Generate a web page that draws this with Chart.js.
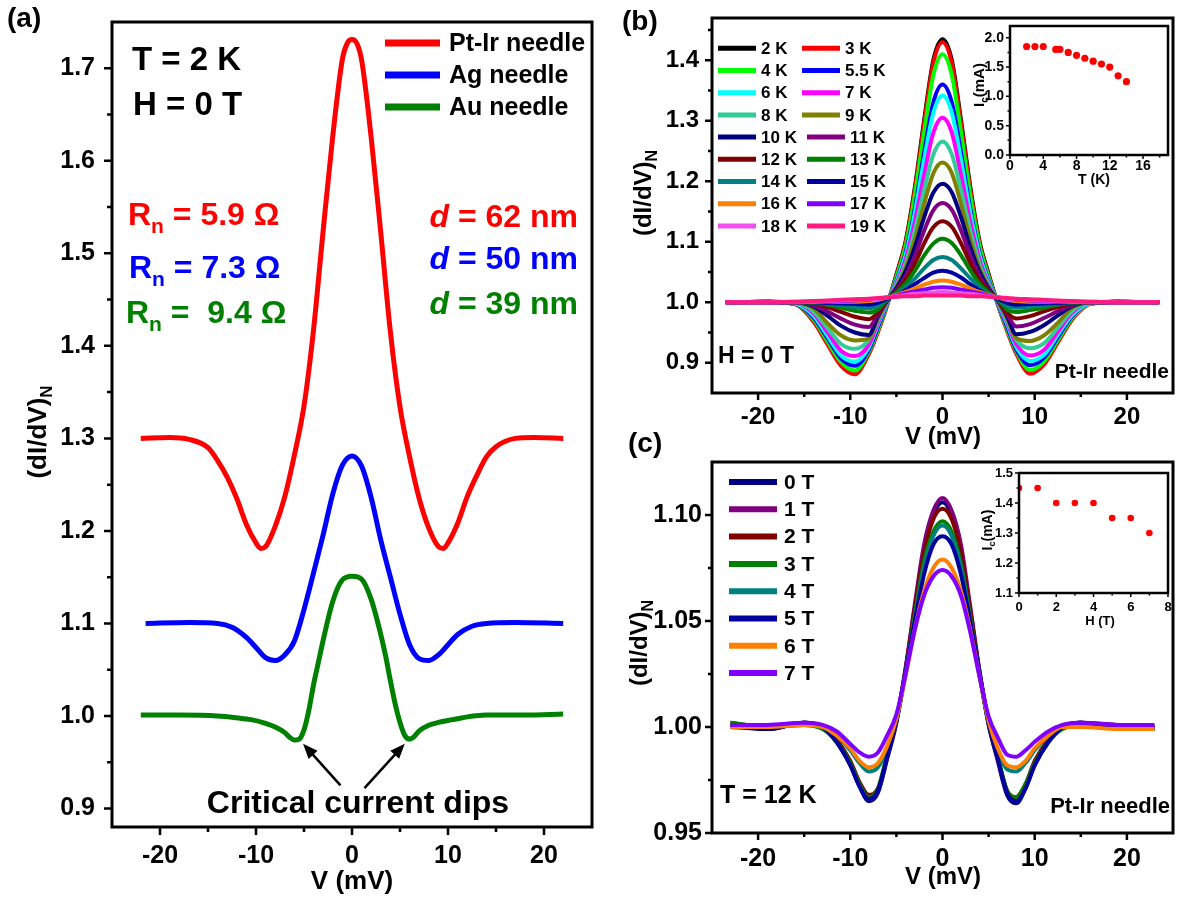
<!DOCTYPE html>
<html>
<head>
<meta charset="utf-8">
<title>Point-contact spectra</title>
<script src="https://cdn.jsdelivr.net/npm/chart.js@4.4.1/dist/chart.umd.min.js"></script>
<style>
  body { margin: 0; background: #fff; }
  #fig { position: relative; width: 1182px; height: 897px; background: #fff; }
  #fig canvas { position: absolute; left: 0; top: 0; }
</style>
</head>
<body>
<div id="fig">
  <canvas id="cA" width="1182" height="897"></canvas>
  <canvas id="cB" width="1182" height="897"></canvas>
  <canvas id="cC" width="1182" height="897"></canvas>
  <canvas id="cBi" width="1182" height="897"></canvas>
  <canvas id="cCi" width="1182" height="897"></canvas>
</div>
<script>
const FAMILY = '"Liberation Sans", Arial, Helvetica, sans-serif';
const W = 1182, H = 897;

// ---------- (a) three needles, T = 2 K ----------
const vPtIr = [-22,-19,-17,-15,-14,-13,-12,-11,-10,-9.5,-9,-8,-7,-6,-5,-4,-3,-2,-1,-0.5,0,0.5,1,2,3,4,5,6,7,8,9,9.5,10,11,12,13,14,15,17,19,22];
const gPtIr = [1.300,1.301,1.299,1.290,1.276,1.258,1.235,1.207,1.187,1.181,1.183,1.205,1.237,1.282,1.335,1.418,1.525,1.627,1.710,1.727,1.731,1.727,1.709,1.625,1.522,1.415,1.334,1.280,1.235,1.203,1.183,1.181,1.187,1.208,1.237,1.260,1.280,1.291,1.300,1.301,1.300];
const vAg = [-21.5,-17,-14,-12.5,-11,-10,-9,-8,-7,-6,-5,-4,-3,-2,-1,0,1,2,3,4,5,6,7,8,9,10,11,12.5,14,17,22];
const gAg = [1.100,1.101,1.100,1.096,1.085,1.074,1.063,1.060,1.066,1.081,1.115,1.155,1.196,1.240,1.271,1.281,1.270,1.236,1.190,1.150,1.110,1.077,1.062,1.060,1.066,1.077,1.088,1.097,1.100,1.101,1.100];
const vAu = [-22,-18,-14,-12,-10.5,-9,-8,-7,-6.5,-6,-5.5,-5,-4.5,-4,-3.5,-3,-2,-1,0,1,2,3,3.5,4,4.5,5,5.5,6,6.5,7,8,9,10.5,12,14,18,22];
const gAu = [1.001,1.001,1.000,0.998,0.996,0.992,0.988,0.982,0.977,0.974,0.975,0.985,1.006,1.034,1.058,1.082,1.124,1.147,1.151,1.148,1.126,1.088,1.065,1.038,1.013,0.993,0.979,0.975,0.978,0.984,0.990,0.993,0.996,0.999,1.001,1.001,1.002];

// ---------- (b) Pt-Ir needle, H = 0 T, temperature series ----------
const tempLabels = ['2 K','3 K','4 K','5.5 K','6 K','7 K','8 K','9 K','10 K','11 K','12 K','13 K','14 K','15 K','16 K','17 K','18 K','19 K'];
const tempColors = ['#000000','#FF0000','#00FF00','#0000FF','#00FFFF','#FF00FF','#33CC99','#808000','#000080','#800080','#800000','#008000','#008080','#0000A0','#FF8000','#8000FF','#F050F0','#FF1A80'];
const vTemp = [-23.5,-19,-16,-14,-12.5,-11,-9.5,-8,-7,-6,-5,-4,-3,-2,-1,0,1,2,3,4,5,6,7,8,9.5,11,12.5,14,16,19,23.5];
const g2K  = [1.000,1.001,0.997,0.970,0.933,0.897,0.883,0.916,0.953,0.996,1.046,1.101,1.190,1.300,1.400,1.435,1.401,1.302,1.192,1.102,1.047,0.997,0.955,0.917,0.884,0.899,0.935,0.972,0.998,1.001,1.000];
const g3K  = [1.000,1.000,0.997,0.968,0.931,0.895,0.881,0.914,0.951,0.995,1.044,1.098,1.186,1.295,1.395,1.430,1.396,1.296,1.188,1.099,1.045,0.996,0.953,0.915,0.882,0.897,0.933,0.970,0.997,1.000,1.000];
const g4K  = [1.000,1.001,0.998,0.972,0.936,0.901,0.887,0.918,0.955,0.997,1.041,1.093,1.177,1.280,1.375,1.410,1.376,1.281,1.178,1.094,1.042,0.997,0.956,0.919,0.888,0.902,0.937,0.973,0.998,1.001,1.000];
const g5K5 = [1.000,1.000,0.998,0.975,0.941,0.907,0.895,0.921,0.959,0.998,1.036,1.082,1.155,1.247,1.330,1.360,1.331,1.248,1.156,1.083,1.036,0.998,0.960,0.922,0.896,0.908,0.942,0.976,0.998,1.000,1.000];
const g6K  = [1.000,1.001,0.998,0.978,0.945,0.912,0.902,0.925,0.963,0.999,1.034,1.078,1.148,1.235,1.313,1.342,1.314,1.236,1.149,1.079,1.034,0.999,0.964,0.926,0.903,0.913,0.946,0.978,0.998,1.001,1.000];
const g7K  = [1.000,1.000,0.999,0.982,0.951,0.920,0.911,0.930,0.966,1.000,1.031,1.071,1.133,1.210,1.280,1.305,1.281,1.211,1.134,1.071,1.031,1.000,0.967,0.931,0.912,0.921,0.951,0.982,0.999,1.000,1.000];
const g8K  = [1.000,1.001,0.999,0.985,0.958,0.931,0.923,0.938,0.970,1.001,1.028,1.064,1.118,1.185,1.244,1.266,1.245,1.186,1.119,1.064,1.028,1.001,0.970,0.938,0.924,0.932,0.958,0.985,0.999,1.001,1.000];
const g9K  = [1.000,1.000,1.000,0.990,0.966,0.945,0.937,0.940,0.974,1.002,1.025,1.057,1.104,1.162,1.213,1.231,1.214,1.163,1.105,1.057,1.025,1.002,0.974,0.941,0.936,0.945,0.966,0.990,1.000,1.000,1.000];
const g10K = [1.000,1.001,1.000,0.993,0.978,0.961,0.950,0.946,0.977,1.003,1.023,1.051,1.091,1.140,1.181,1.196,1.182,1.141,1.092,1.051,1.023,1.003,0.977,0.947,0.951,0.962,0.978,0.993,1.000,1.001,1.000];
const g11K = [1.000,1.000,1.000,0.995,0.985,0.973,0.963,0.959,0.980,1.003,1.020,1.043,1.077,1.118,1.152,1.164,1.153,1.119,1.078,1.043,1.020,1.003,0.980,0.960,0.964,0.974,0.985,0.995,1.000,1.000,1.000];
const g12K = [1.000,1.001,1.000,0.998,0.992,0.984,0.976,0.972,0.983,1.004,1.018,1.037,1.064,1.097,1.124,1.134,1.125,1.098,1.065,1.037,1.018,1.004,0.983,0.973,0.977,0.985,0.992,0.998,1.000,1.001,1.000];
const g13K = [1.000,1.000,1.000,0.999,0.996,0.991,0.986,0.983,0.988,1.005,1.016,1.031,1.052,1.077,1.097,1.105,1.098,1.078,1.053,1.031,1.016,1.005,0.988,0.984,0.987,0.991,0.996,0.999,1.000,1.000,1.000];
const g14K = [1.000,1.001,1.000,1.000,0.998,0.995,0.992,0.990,0.994,1.005,1.014,1.025,1.039,1.056,1.070,1.075,1.070,1.056,1.040,1.025,1.014,1.005,0.994,0.991,0.993,0.995,0.998,1.000,1.000,1.001,1.000];
const g15K = [1.000,1.000,1.000,1.000,0.999,0.998,0.997,0.996,0.999,1.006,1.012,1.020,1.030,1.040,1.049,1.052,1.049,1.041,1.030,1.020,1.012,1.006,0.999,0.996,0.997,0.998,0.999,1.000,1.000,1.000,1.000];
const g16K = [1.000,1.000,1.000,1.001,1.001,1.001,1.001,1.002,1.004,1.008,1.012,1.017,1.023,1.029,1.034,1.036,1.034,1.029,1.023,1.017,1.012,1.008,1.004,1.002,1.001,1.001,1.001,1.001,1.000,1.000,1.000];
const g17K = [1.000,1.000,1.000,1.001,1.001,1.002,1.003,1.004,1.006,1.008,1.011,1.015,1.018,1.021,1.024,1.025,1.024,1.021,1.018,1.015,1.011,1.008,1.006,1.004,1.003,1.002,1.001,1.001,1.000,1.000,1.000];
const g18K = [1.000,1.000,1.001,1.001,1.002,1.003,1.004,1.005,1.006,1.008,1.010,1.012,1.014,1.015,1.016,1.017,1.016,1.015,1.014,1.012,1.010,1.008,1.006,1.005,1.004,1.003,1.002,1.001,1.001,1.000,1.000];
const g19K = [1.000,1.000,1.001,1.002,1.003,1.004,1.005,1.006,1.007,1.008,1.009,1.010,1.010,1.011,1.011,1.011,1.011,1.011,1.010,1.010,1.009,1.008,1.007,1.006,1.005,1.004,1.003,1.002,1.001,1.000,1.000];
const tempCurves = [g2K,g3K,g4K,g5K5,g6K,g7K,g8K,g9K,g10K,g11K,g12K,g13K,g14K,g15K,g16K,g17K,g18K,g19K];

// ---------- (c) Pt-Ir needle, T = 12 K, field series ----------
const fieldLabels = ['0 T','1 T','2 T','3 T','4 T','5 T','6 T','7 T'];
const fieldColors = ['#000080','#800080','#800000','#008000','#008080','#0000A0','#FF8000','#8000FF'];
const vField = [-23,-19,-15,-13,-11.5,-10,-9,-8,-7,-6,-5,-4,-3,-2,-1,0,1,2,3,4,5,6,7,8,9,10,11.5,13,15,19,23];
const g0T = [1.001,0.999,1.002,1.000,0.993,0.982,0.972,0.965,0.969,0.985,1.002,1.027,1.056,1.083,1.100,1.106,1.100,1.083,1.055,1.026,1.001,0.984,0.968,0.964,0.971,0.982,0.993,1.000,1.002,1.000,1.000];
const g1T = [1.002,1.000,1.002,1.000,0.994,0.983,0.973,0.966,0.970,0.986,1.003,1.028,1.058,1.086,1.102,1.108,1.102,1.086,1.057,1.027,1.002,0.985,0.969,0.966,0.972,0.983,0.994,1.000,1.002,1.001,1.000];
const g2T = [1.001,1.000,1.002,1.000,0.994,0.984,0.974,0.968,0.971,0.986,1.003,1.027,1.056,1.082,1.098,1.103,1.098,1.082,1.055,1.026,1.002,0.985,0.970,0.967,0.973,0.984,0.994,1.000,1.002,1.000,1.000];
const g3T = [1.002,1.000,1.001,0.999,0.993,0.983,0.973,0.967,0.971,0.987,1.003,1.026,1.053,1.078,1.092,1.097,1.092,1.077,1.052,1.025,1.002,0.986,0.970,0.967,0.973,0.983,0.993,0.999,1.001,1.000,1.000];
const g4T = [1.001,1.000,1.001,1.000,0.996,0.989,0.983,0.979,0.981,0.990,1.004,1.026,1.051,1.075,1.090,1.095,1.090,1.075,1.050,1.025,1.003,0.989,0.980,0.979,0.983,0.989,0.996,1.000,1.001,1.000,1.000];
const g5T = [1.000,0.999,1.002,1.000,0.993,0.982,0.972,0.966,0.970,0.986,1.003,1.026,1.050,1.072,1.086,1.090,1.086,1.072,1.050,1.026,1.002,0.985,0.969,0.965,0.971,0.982,0.993,1.000,1.002,1.000,0.999];
const g6T = [1.000,1.000,1.001,1.000,0.996,0.990,0.984,0.981,0.983,0.991,1.004,1.024,1.046,1.064,1.075,1.079,1.075,1.064,1.046,1.024,1.003,0.990,0.982,0.981,0.984,0.990,0.996,1.000,1.000,0.999,0.999];
const g7T = [1.001,1.001,1.002,1.001,0.998,0.992,0.988,0.986,0.988,0.996,1.006,1.025,1.046,1.062,1.071,1.074,1.071,1.062,1.045,1.024,1.005,0.995,0.987,0.986,0.989,0.993,0.998,1.001,1.002,1.001,1.001];
const fieldCurves = [g0T,g1T,g2T,g3T,g4T,g5T,g6T,g7T];

// ---------- insets: critical current ----------
const tK = [2,3,4,5.5,6,7,8,9,10,11,12,13,14];
const icVsT = [1.85,1.85,1.85,1.80,1.80,1.75,1.70,1.65,1.60,1.55,1.50,1.35,1.25];
const hT = [0,1,2,3,4,5,6,7];
const icVsH = [1.45,1.45,1.40,1.40,1.40,1.35,1.35,1.30];

// ---------- tick values ----------
const vTicks = [-20,-10,0,10,20];
const vMinor = [-15,-5,5,15];
const yTicksA = [0.9,1.0,1.1,1.2,1.3,1.4,1.5,1.6,1.7];
const yMinorA = [0.95,1.05,1.15,1.25,1.35,1.45,1.55,1.65];
const yTicksB = [0.9,1.0,1.1,1.2,1.3,1.4];
const yMinorB = [0.95,1.05,1.15,1.25,1.35,1.45];
const yTicksC = [0.95,1.00,1.05,1.10];
const yMinorC = [0.975,1.025,1.075];
const tTicks = [0,4,8,12,16], tMinor = [2,6,10,14,18];
const icTicksT = [0,0.5,1.0,1.5,2.0], icMinorT = [0.25,0.75,1.25,1.75];
const hTicks = [0,2,4,6,8], hMinor = [1,3,5,7];
const icTicksH = [1.1,1.2,1.3,1.4,1.5], icMinorH = [1.15,1.25,1.35,1.45];

Chart.defaults.font.family = FAMILY;
Chart.defaults.font.weight = 'bold';
Chart.defaults.color = '#000';

const pts = (xs, ys) => xs.map((x, i) => ({ x, y: ys[i] }));
const bold = (s, it) => (it ? 'italic ' : '') + 'bold ' + s + 'px ' + FAMILY;

function curve(xs, ys, color, width, order) {
  return {
    data: pts(xs, ys), borderColor: color, backgroundColor: color,
    borderWidth: width, pointRadius: 0, fill: false,
    cubicInterpolationMode: 'monotone', order
  };
}

// text made of pieces: [text, kind] with kind '' | 'sub' | 'it'
function rich(ctx, parts, x, y, o) {
  const size = o.size;
  const fontOf = k => k === 'sub' ? bold(Math.round(size * 0.66)) : bold(size, k === 'it');
  ctx.save();
  ctx.fillStyle = o.color || '#000';
  ctx.textBaseline = 'alphabetic';
  ctx.textAlign = 'left';
  let total = 0;
  parts.forEach(([t, k]) => { ctx.font = fontOf(k); total += ctx.measureText(t).width; });
  ctx.translate(x, y);
  if (o.rotate) ctx.rotate(o.rotate);
  let cx = o.align === 'right' ? -total : o.align === 'center' ? -total / 2 : 0;
  parts.forEach(([t, k]) => {
    ctx.font = fontOf(k);
    ctx.fillText(t, cx, k === 'sub' ? size * 0.24 : 0);
    cx += ctx.measureText(t).width;
  });
  ctx.restore();
}

function legendRow(ctx, x0, x1, y, color, lw, label, tx, size) {
  ctx.save();
  ctx.strokeStyle = color;
  ctx.lineWidth = lw;
  ctx.beginPath();
  ctx.moveTo(x0, y);
  ctx.lineTo(x1, y);
  ctx.stroke();
  ctx.fillStyle = '#000';
  ctx.font = bold(size);
  ctx.textBaseline = 'middle';
  ctx.fillText(label, tx, y + 1);
  ctx.restore();
}

function arrow(ctx, x0, y0, x1, y1) {
  const a = Math.atan2(y1 - y0, x1 - x0), hl = 15, hw = 6;
  const c = Math.cos(a), s = Math.sin(a);
  ctx.save();
  ctx.strokeStyle = ctx.fillStyle = '#000';
  ctx.lineWidth = 2.5;
  ctx.beginPath();
  ctx.moveTo(x0, y0);
  ctx.lineTo(x1 - c * hl * 0.8, y1 - s * hl * 0.8);
  ctx.stroke();
  ctx.beginPath();
  ctx.moveTo(x1, y1);
  ctx.lineTo(x1 - hl * c + hw * s, y1 - hl * s - hw * c);
  ctx.lineTo(x1 - hl * c - hw * s, y1 - hl * s + hw * c);
  ctx.closePath();
  ctx.fill();
  ctx.restore();
}

// closed box with outward major/minor ticks on the left and bottom
function axesFrame(o) {
  return {
    id: 'axesFrame',
    afterDatasetsDraw(chart) {
      const { ctx, chartArea: a } = chart;
      const x = chart.scales.x, y = chart.scales.y;
      ctx.save();
      ctx.strokeStyle = '#000';
      ctx.lineWidth = o.tickWidth;
      ctx.beginPath();
      o.xMajor.forEach(v => { const p = x.getPixelForValue(v); ctx.moveTo(p, a.bottom); ctx.lineTo(p, a.bottom + o.major); });
      o.xMinor.forEach(v => { const p = x.getPixelForValue(v); ctx.moveTo(p, a.bottom); ctx.lineTo(p, a.bottom + o.minor); });
      o.yMajor.forEach(v => { const p = y.getPixelForValue(v); ctx.moveTo(a.left, p); ctx.lineTo(a.left - o.major, p); });
      o.yMinor.forEach(v => { const p = y.getPixelForValue(v); ctx.moveTo(a.left, p); ctx.lineTo(a.left - o.minor, p); });
      ctx.stroke();
      ctx.lineWidth = o.frameWidth;
      ctx.strokeRect(a.left, a.top, a.right - a.left, a.bottom - a.top);
      ctx.restore();
    }
  };
}

function overlay(draw) {
  return { id: 'overlay', afterDraw(chart) { draw(chart.ctx, chart); } };
}

function makeChart(id, c) {
  const tickFont = { family: FAMILY, size: c.fontSize, weight: 'bold' };
  return new Chart(document.getElementById(id), {
    type: c.type || 'line',
    data: { datasets: c.datasets },
    options: {
      responsive: false,
      animation: false,
      events: [],
      layout: { padding: { left: 0, top: c.box.top, right: W - c.box.right, bottom: 0 } },
      plugins: { legend: { display: false }, tooltip: { enabled: false } },
      scales: {
        x: {
          type: 'linear', min: c.x[0], max: c.x[1],
          grid: { display: false, drawTicks: false },
          border: { display: false },
          afterBuildTicks: s => { s.ticks = c.xTicks.map(v => ({ value: v })); },
          afterFit: s => { s.height = H - c.box.bottom; s.paddingLeft = 0; s.paddingRight = 0; },
          ticks: { autoSkip: false, maxRotation: 0, padding: c.xPad, color: '#000', font: tickFont,
                   callback: v => c.xFmt(v) }
        },
        y: {
          type: 'linear', min: c.y[0], max: c.y[1],
          grid: { display: false, drawTicks: false },
          border: { display: false },
          afterBuildTicks: s => { s.ticks = c.yTicks.map(v => ({ value: v })); },
          afterFit: s => { s.width = c.box.left; s.paddingTop = 0; s.paddingBottom = 0; },
          ticks: { autoSkip: false, padding: c.yPad, color: '#000', font: tickFont,
                   callback: v => c.yFmt(v) }
        }
      }
    },
    plugins: [
      axesFrame({ xMajor: c.xTicks, xMinor: c.xMinor, yMajor: c.yTicks, yMinor: c.yMinor,
                  major: c.major, minor: c.minor, tickWidth: c.tickWidth, frameWidth: c.frameWidth }),
      overlay(c.draw)
    ]
  });
}

const yTitle = (ctx, x, y, size) =>
  rich(ctx, [['(dI/dV)', ''], ['N', 'sub']], x, y, { size, align: 'center', rotate: -Math.PI / 2 });
const icTitle = (ctx, x, y, size) =>
  rich(ctx, [['I', ''], ['c', 'sub'], ['(mA)', '']], x, y, { size, align: 'center', rotate: -Math.PI / 2 });

function plainText(ctx, t, x, y, size, align, color) {
  ctx.save();
  ctx.font = bold(size);
  ctx.fillStyle = color || '#000';
  ctx.textAlign = align || 'left';
  ctx.textBaseline = 'alphabetic';
  ctx.fillText(t, x, y);
  ctx.restore();
}

// ---------- panel (a) ----------
makeChart('cA', {
  box: { left: 112, top: 22, right: 592, bottom: 827 },
  x: [-25, 25], y: [0.88, 1.75],
  xTicks: vTicks, xMinor: vMinor, yTicks: yTicksA, yMinor: yMinorA,
  xFmt: v => String(v), yFmt: v => v.toFixed(1),
  fontSize: 25, xPad: 14, yPad: 17,
  major: 8, minor: 5, tickWidth: 2.5, frameWidth: 3,
  datasets: [
    curve(vPtIr, gPtIr, '#FF0000', 5, 3),
    curve(vAg, gAg, '#0000FF', 5, 2),
    curve(vAu, gAu, '#008000', 5, 1)
  ],
  draw: (ctx, chart) => {
    const x = chart.scales.x, y = chart.scales.y;
    plainText(ctx, '(a)', 7, 27, 28);
    plainText(ctx, 'T = 2 K', 132, 70, 33);
    plainText(ctx, 'H = 0 T', 133, 115, 33);
    legendRow(ctx, 385, 440, 43, '#FF0000', 7, 'Pt-Ir needle', 449, 25);
    legendRow(ctx, 385, 440, 75, '#0000FF', 7, 'Ag needle', 449, 25);
    legendRow(ctx, 385, 440, 107, '#008000', 7, 'Au needle', 449, 25);
    rich(ctx, [['R', ''], ['n', 'sub'], [' = 5.9 \u03A9', '']], 128, 225, { size: 32, color: '#FF0000' });
    rich(ctx, [['R', ''], ['n', 'sub'], [' = 7.3 \u03A9', '']], 129, 278, { size: 32, color: '#0000FF' });
    rich(ctx, [['R', ''], ['n', 'sub'], [' =  9.4 \u03A9', '']], 126, 323, { size: 32, color: '#008000' });
    rich(ctx, [['d', 'it'], [' = 62 nm', '']], 578, 227, { size: 32, align: 'right', color: '#FF0000' });
    rich(ctx, [['d', 'it'], [' = 50 nm', '']], 578, 269, { size: 32, align: 'right', color: '#0000FF' });
    rich(ctx, [['d', 'it'], [' = 39 nm', '']], 578, 314, { size: 32, align: 'right', color: '#008000' });
    plainText(ctx, 'Critical current dips', 358, 813, 32, 'center');
    arrow(ctx, x.getPixelForValue(-1.2), y.getPixelForValue(0.925), x.getPixelForValue(-5.1), y.getPixelForValue(0.970));
    arrow(ctx, x.getPixelForValue(1.3), y.getPixelForValue(0.922), x.getPixelForValue(5.5), y.getPixelForValue(0.970));
    yTitle(ctx, 46, 432, 26);
    plainText(ctx, 'V (mV)', 352, 889, 26, 'center');
  }
});

// ---------- panel (b) ----------
makeChart('cB', {
  box: { left: 712, top: 18, right: 1173, bottom: 393 },
  x: [-25, 25], y: [0.85, 1.47],
  xTicks: vTicks, xMinor: vMinor, yTicks: yTicksB, yMinor: yMinorB,
  xFmt: v => String(v), yFmt: v => v.toFixed(1),
  fontSize: 24, xPad: 10, yPad: 13,
  major: 7, minor: 4, tickWidth: 2.5, frameWidth: 3,
  datasets: tempCurves.map((g, i) => curve(vTemp, g, tempColors[i], 4, tempCurves.length - i)),
  draw: ctx => {
    plainText(ctx, '(b)', 622, 30, 28);
    tempLabels.forEach((lab, i) => {
      const row = Math.floor(i / 2), y = 48.3 + row * 22.2;
      if (i % 2 === 0) legendRow(ctx, 718, 756, y, tempColors[i], 5, lab, 761, 17);
      else if (row < 4) legendRow(ctx, 802, 840, y, tempColors[i], 5, lab, 845, 17);
      else legendRow(ctx, 807, 845, y, tempColors[i], 5, lab, 850, 17);
    });
    plainText(ctx, 'H = 0 T', 718, 363, 23);
    plainText(ctx, 'Pt-Ir needle', 1169, 378, 21, 'right');
    yTitle(ctx, 651, 193, 24);
    plainText(ctx, 'V (mV)', 943, 444, 24, 'center');
  }
});

// ---------- panel (c) ----------
makeChart('cC', {
  box: { left: 712, top: 462, right: 1173, bottom: 833 },
  x: [-25, 25], y: [0.95, 1.125],
  xTicks: vTicks, xMinor: vMinor, yTicks: yTicksC, yMinor: yMinorC,
  xFmt: v => String(v), yFmt: v => v.toFixed(2),
  fontSize: 25, xPad: 11, yPad: 10,
  major: 7, minor: 4, tickWidth: 2.5, frameWidth: 3,
  datasets: fieldCurves.map((g, i) => curve(vField, g, fieldColors[i], 4, fieldCurves.length - i)),
  draw: ctx => {
    plainText(ctx, '(c)', 628, 452, 28);
    fieldLabels.forEach((lab, i) => legendRow(ctx, 729, 777, 482 + i * 27.3, fieldColors[i], 6, lab, 784, 21));
    plainText(ctx, 'T = 12 K', 720, 803, 25);
    plainText(ctx, 'Pt-Ir needle', 1170, 813, 22, 'right');
    yTitle(ctx, 647, 643, 24);
    plainText(ctx, 'V (mV)', 943, 884, 24, 'center');
  }
});

// ---------- inset of (b): Ic vs T ----------
makeChart('cBi', {
  type: 'scatter',
  box: { left: 1010, top: 26, right: 1168, bottom: 155 },
  x: [0, 19], y: [0, 2.2],
  xTicks: tTicks, xMinor: tMinor, yTicks: icTicksT, yMinor: icMinorT,
  xFmt: v => String(v), yFmt: v => v.toFixed(1),
  fontSize: 14, xPad: 3, yPad: 6,
  major: 4, minor: 2.5, tickWidth: 1.5, frameWidth: 2.5,
  datasets: [{ data: pts(tK, icVsT), backgroundColor: '#FF0000', borderWidth: 0, pointRadius: 3.6 }],
  draw: ctx => {
    icTitle(ctx, 984, 85, 15);
    plainText(ctx, 'T (K)', 1094, 184, 14, 'center');
  }
});

// ---------- inset of (c): Ic vs H ----------
makeChart('cCi', {
  type: 'scatter',
  box: { left: 1019, top: 473, right: 1168, bottom: 593 },
  x: [0, 8], y: [1.1, 1.5],
  xTicks: hTicks, xMinor: hMinor, yTicks: icTicksH, yMinor: icMinorH,
  xFmt: v => String(v), yFmt: v => v.toFixed(1),
  fontSize: 13, xPad: 7, yPad: 6,
  major: 4, minor: 2.5, tickWidth: 1.5, frameWidth: 2.5,
  datasets: [{ data: pts(hT, icVsH), backgroundColor: '#FF0000', borderWidth: 0, pointRadius: 3.3 }],
  draw: ctx => {
    icTitle(ctx, 992, 530, 14);
    plainText(ctx, 'H (T)', 1100, 625, 13, 'center');
  }
});
</script>
</body>
</html>
